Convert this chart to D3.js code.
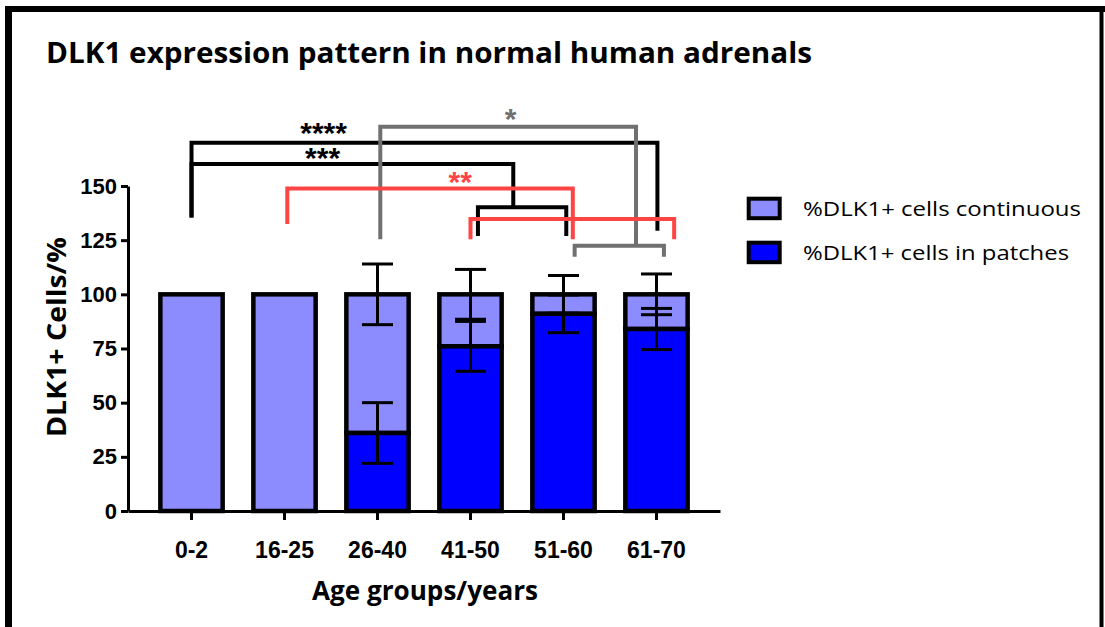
<!DOCTYPE html>
<html lang="en">
<head>
  <meta charset="utf-8"/>
  <title>DLK1 expression pattern in normal human adrenals</title>
  <script src="https://d3js.org/d3.v7.min.js"></script>
  <style>
    html, body { margin: 0; padding: 0; background: #fff; }
    svg { display: block; }
  </style>
</head>
<body>
<svg id="chart" width="1105" height="627"></svg>
<script>
  // data
  const ageGroups = ["0-2", "16-25", "26-40", "41-50", "51-60", "61-70"];
  const patches = [0, 0, 36, 76, 91, 84];
  const continuous = [100, 100, 64, 24, 9, 16];
  const patchesSD = [0, 0, 14, 11.5, 8.7, 9.5];
  const continuousSD = [0, 0, 14, 11.5, 8.7, 9.4];
  const yTicks = [0, 25, 50, 75, 100, 125, 150];
  const seriesNames = ["%DLK1+ cells continuous", "%DLK1+ cells in patches"];

  // significance brackets: group index (fractional) and y in data units
  const brackets = [
    { color: "#000", label: "****", lx: 1.42, ly: 173,
      paths: [[[0, 135.5], [0, 170], [5.01, 170], [5.01, 129.4]]] },
    { color: "#000", label: "***", lx: 1.41, ly: 161.5,
      paths: [[[0, 135.5], [0, 160.2], [3.46, 160.2], [3.46, 140.2]],
              [[3.08, 126.9], [3.08, 140.2], [4.03, 140.2], [4.03, 126.9]]] },
    { color: "#707070", label: "*", lx: 3.43, ly: 179.7,
      paths: [[[2.03, 125.4], [2.03, 177.4], [4.78, 177.4], [4.78, 122.4]],
              [[4.12, 117.4], [4.12, 122.4], [5.08, 122.4], [5.08, 117.4]]] },
    { color: "#ff4444", label: "**", lx: 2.89, ly: 150.5,
      paths: [[[1.03, 132.5], [1.03, 148.9], [4.1, 148.9], [4.1, 125.4]],
              [[3.0, 125.4], [3.0, 134.8], [5.19, 134.8], [5.19, 125.4]]] }
  ];

  const lightBlue = "#8c8cff";
  const darkBlue = "#0000ff";

  const svg = d3.select("#chart");

  // frame
  svg.append("line").attr("x1", 5).attr("x2", 1105).attr("y1", 9).attr("y2", 9)
    .attr("stroke", "#000").attr("stroke-width", 6);
  svg.append("line").attr("x1", 8.5).attr("x2", 8.5).attr("y1", 6).attr("y2", 627)
    .attr("stroke", "#000").attr("stroke-width", 7);
  svg.append("line").attr("x1", 1101.5).attr("x2", 1101.5).attr("y1", 6).attr("y2", 627)
    .attr("stroke", "#000").attr("stroke-width", 4);

  // title
  svg.append("text")
    .attr("x", 46).attr("y", 63)
    .attr("font-family", "'Open Sans', sans-serif")
    .attr("font-weight", 700)
    .attr("font-size", 28)
    .attr("textLength", 766)
    .attr("lengthAdjust", "spacingAndGlyphs")
    .text("DLK1 expression pattern in normal human adrenals");

  const x = d3.scaleBand().domain(ageGroups).range([128, 720])
    .paddingInner(0.33).paddingOuter(0.348);
  const y = d3.scaleLinear().domain([0, 150]).range([511, 186]);
  const xi = d3.scaleLinear().domain([0, ageGroups.length - 1])
    .range([x(ageGroups[0]) + x.bandwidth() / 2, x(ageGroups[ageGroups.length - 1]) + x.bandwidth() / 2]);

  // axes
  const yAxis = svg.append("g")
    .attr("transform", "translate(128,0)")
    .call(d3.axisLeft(y).tickValues(yTicks).tickSize(7).tickSizeOuter(0).tickPadding(4));
  yAxis.selectAll("path, line").attr("stroke", "#000").attr("stroke-width", 3);
  yAxis.selectAll("text")
    .attr("font-family", "'Liberation Sans', Arial, sans-serif")
    .attr("font-weight", 700).attr("font-size", 22).attr("fill", "#000");

  const xAxis = svg.append("g")
    .attr("transform", "translate(0,511)")
    .call(d3.axisBottom(x).tickSize(9).tickSizeOuter(0).tickPadding(22));
  xAxis.selectAll("path, line").attr("stroke", "#000").attr("stroke-width", 3);
  xAxis.selectAll("text")
    .attr("font-family", "'Liberation Sans', Arial, sans-serif")
    .attr("font-weight", 700).attr("font-size", 23).attr("fill", "#000");

  // axis titles
  svg.append("text")
    .attr("transform", "translate(66,337) rotate(-90)")
    .attr("text-anchor", "middle")
    .attr("font-family", "'Open Sans', sans-serif")
    .attr("font-weight", 700).attr("font-size", 27)
    .attr("textLength", 200).attr("lengthAdjust", "spacingAndGlyphs")
    .text("DLK1+ Cells/%");

  svg.append("text")
    .attr("x", 425).attr("y", 600)
    .attr("text-anchor", "middle")
    .attr("font-family", "'Open Sans', sans-serif")
    .attr("font-weight", 700).attr("font-size", 27)
    .attr("textLength", 226).attr("lengthAdjust", "spacingAndGlyphs")
    .text("Age groups/years");

  // stacked bars
  const rows = ageGroups.map((g, i) => ({
    group: g, patches: patches[i], continuous: continuous[i],
    pSD: patchesSD[i], cSD: continuousSD[i]
  }));

  const bars = svg.append("g");
  bars.selectAll("rect.cont")
    .data(rows)
    .join("rect")
    .attr("class", "cont")
    .attr("x", d => x(d.group))
    .attr("width", x.bandwidth())
    .attr("y", d => y(d.patches + d.continuous))
    .attr("height", d => y(d.patches) - y(d.patches + d.continuous))
    .attr("fill", lightBlue)
    .attr("stroke", "#000").attr("stroke-width", 4.5);

  bars.selectAll("rect.patch")
    .data(rows.filter(d => d.patches > 0))
    .join("rect")
    .attr("class", "patch")
    .attr("x", d => x(d.group))
    .attr("width", x.bandwidth())
    .attr("y", d => y(d.patches))
    .attr("height", d => y(0) - y(d.patches))
    .attr("fill", darkBlue)
    .attr("stroke", "#000").attr("stroke-width", 4.5);

  // error bars (mean +/- SD at top of each segment)
  const errs = [];
  rows.forEach(d => {
    if (d.cSD > 0) errs.push({ group: d.group, mid: d.patches + d.continuous, sd: d.cSD });
    if (d.pSD > 0) errs.push({ group: d.group, mid: d.patches, sd: d.pSD });
  });
  const capW = 31;
  const eg = svg.append("g").attr("stroke", "#000").attr("stroke-width", 3).attr("fill", "none");
  errs.forEach(e => {
    const cx = x(e.group) + x.bandwidth() / 2;
    eg.append("line").attr("x1", cx).attr("x2", cx)
      .attr("y1", y(e.mid - e.sd)).attr("y2", y(e.mid + e.sd));
    [e.mid - e.sd, e.mid + e.sd].forEach(v => {
      eg.append("line").attr("x1", cx - capW / 2).attr("x2", cx + capW / 2)
        .attr("y1", y(v)).attr("y2", y(v));
    });
  });

  // significance brackets
  const line = d3.line().x(p => xi(p[0])).y(p => y(p[1]));
  brackets.forEach(b => {
    b.paths.forEach(p => {
      svg.append("path").attr("d", line(p))
        .attr("fill", "none").attr("stroke", b.color).attr("stroke-width", 4);
    });
    svg.append("text")
      .attr("x", xi(b.lx)).attr("y", y(b.ly) + 7)
      .attr("text-anchor", "middle")
      .attr("font-family", "'Liberation Sans', Arial, sans-serif")
      .attr("font-weight", 700).attr("font-size", 30)
      .attr("fill", b.color)
      .text(b.label);
  });

  // legend
  const legend = svg.append("g");
  const legendFill = [lightBlue, darkBlue];
  const legendLen = [278, 266];
  seriesNames.forEach((name, i) => {
    const yy = 198.7 + i * 44;
    legend.append("rect")
      .attr("x", 748.7).attr("y", yy).attr("width", 31).attr("height", 19.5)
      .attr("fill", legendFill[i]).attr("stroke", "#000").attr("stroke-width", 4);
    legend.append("text")
      .attr("x", 803).attr("y", yy + 17)
      .attr("font-family", "'Open Sans', sans-serif")
      .attr("font-size", 20)
      .attr("textLength", legendLen[i]).attr("lengthAdjust", "spacingAndGlyphs")
      .text(name);
  });
</script>
</body>
</html>
